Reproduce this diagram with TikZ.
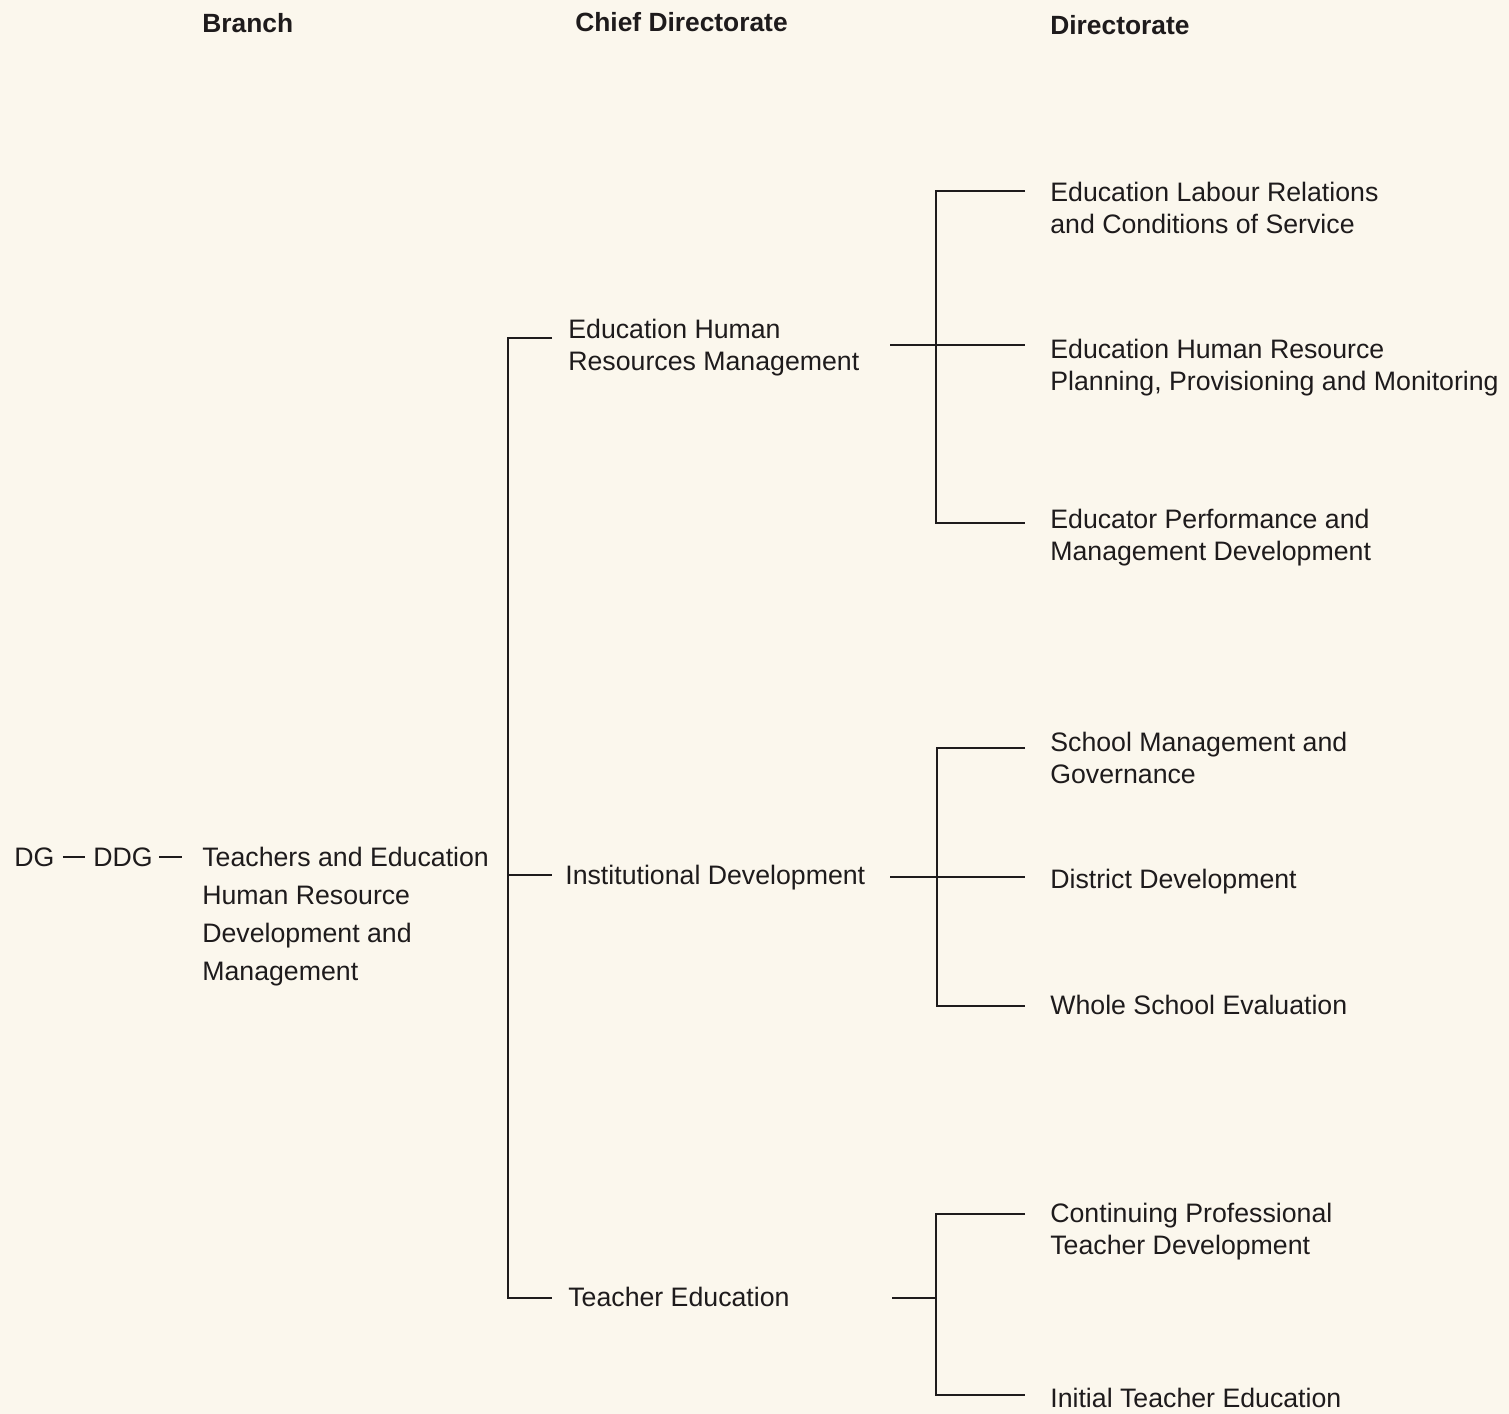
\documentclass[tikz,border=0pt]{standalone}
\usepackage{fontspec}
\setmainfont{Liberation Sans}
\usepackage{tikz}
\usetikzlibrary{calc}
\definecolor{paper}{RGB}{251,247,237}
\definecolor{ink}{RGB}{30,27,28}

\begin{document}
\begin{tikzpicture}[x=0.02cm, y=-0.02cm,
        lbl/.style={anchor=north west, inner sep=0pt, align=left, text=ink, font=\fontsize{15.2}{18.2}\selectfont},
        head/.style={lbl, font=\fontsize{15}{18.2}\selectfont\bfseries},
        link/.style={draw=ink, line width=1.35pt}]
        % Page
        \useasboundingbox (0,0) rectangle (1509,1414);
        \fill[paper] (0,0) rectangle (1509,1414);

        % Column headings
        \node[head] (hbranch) at (202,13) {Branch};
        \node[head] (hchief) at (575,12) {Chief Directorate};
        \node[head] (hdir) at (1050,15) {Directorate};

        % DG - DDG - Branch
        \node[lbl] (dg) at (14,847) {DG};
        \node[lbl] (ddg) at (93,847) {DDG};
        \node[lbl, font=\fontsize{15.2}{21.6}\selectfont] (branch) at (202,847) {Teachers and Education\\Human Resource\\Development and\\Management};
        \draw[link, shorten <=0.16cm, shorten >=0.16cm] (dg.east) -- (ddg.west);
        \draw[link, shorten <=0.12cm, shorten >=0.4cm] (ddg.east) -- (ddg.east -| branch.west);

        % Chief Directorates
        \node[lbl] (hrm) at (568,319) {Education Human\\Resources Management};
        \node[lbl] (inst) at (565,865) {Institutional Development};
        \node[lbl] (ted) at (568,1287) {Teacher Education};
        \coordinate (hrm-in) at (552,338);
        \coordinate (inst-in) at (552,875);
        \coordinate (ted-in) at (552,1298);
        \coordinate (spine) at (508,875);
        \draw[link] (hrm-in) -| (spine) |- (ted-in);
        \draw[link] (spine) -- (inst-in);

        % Directorates under Education Human Resources Management
        \node[lbl] (labour) at (1050,182) {Education Labour Relations\\and Conditions of Service};
        \node[lbl] (hrplan) at (1050,339) {Education Human Resource\\Planning, Provisioning and Monitoring};
        \node[lbl] (perf) at (1050,509) {Educator Performance and\\Management Development};
        \coordinate (hrm-out) at (890,345);
        \coordinate (j1) at (936,345);
        \coordinate (labour-in) at (1025,191);
        \coordinate (hrplan-in) at (1025,345);
        \coordinate (perf-in) at (1025,523);
        \draw[link] (hrm-out) -- (hrplan-in);
        \draw[link] (labour-in) -| (j1) |- (perf-in);

        % Directorates under Institutional Development
        \node[lbl] (smg) at (1050,732) {School Management and\\Governance};
        \node[lbl] (district) at (1050,869) {District Development};
        \node[lbl] (wse) at (1050,995) {Whole School Evaluation};
        \coordinate (inst-out) at (890,877);
        \coordinate (j2) at (937,877);
        \coordinate (smg-in) at (1025,748);
        \coordinate (district-in) at (1025,877);
        \coordinate (wse-in) at (1025,1006);
        \draw[link] (inst-out) -- (district-in);
        \draw[link] (smg-in) -| (j2) |- (wse-in);

        % Directorates under Teacher Education
        \node[lbl] (cptd) at (1050,1203) {Continuing Professional\\Teacher Development};
        \node[lbl] (ite) at (1050,1388) {Initial Teacher Education};
        \coordinate (ted-out) at (892,1298);
        \coordinate (j3) at (936,1298);
        \coordinate (cptd-in) at (1025,1214);
        \coordinate (ite-in) at (1025,1395);
        \draw[link] (ted-out) -- (j3);
        \draw[link] (cptd-in) -| (j3) |- (ite-in);

    \end{tikzpicture}
\end{document}
